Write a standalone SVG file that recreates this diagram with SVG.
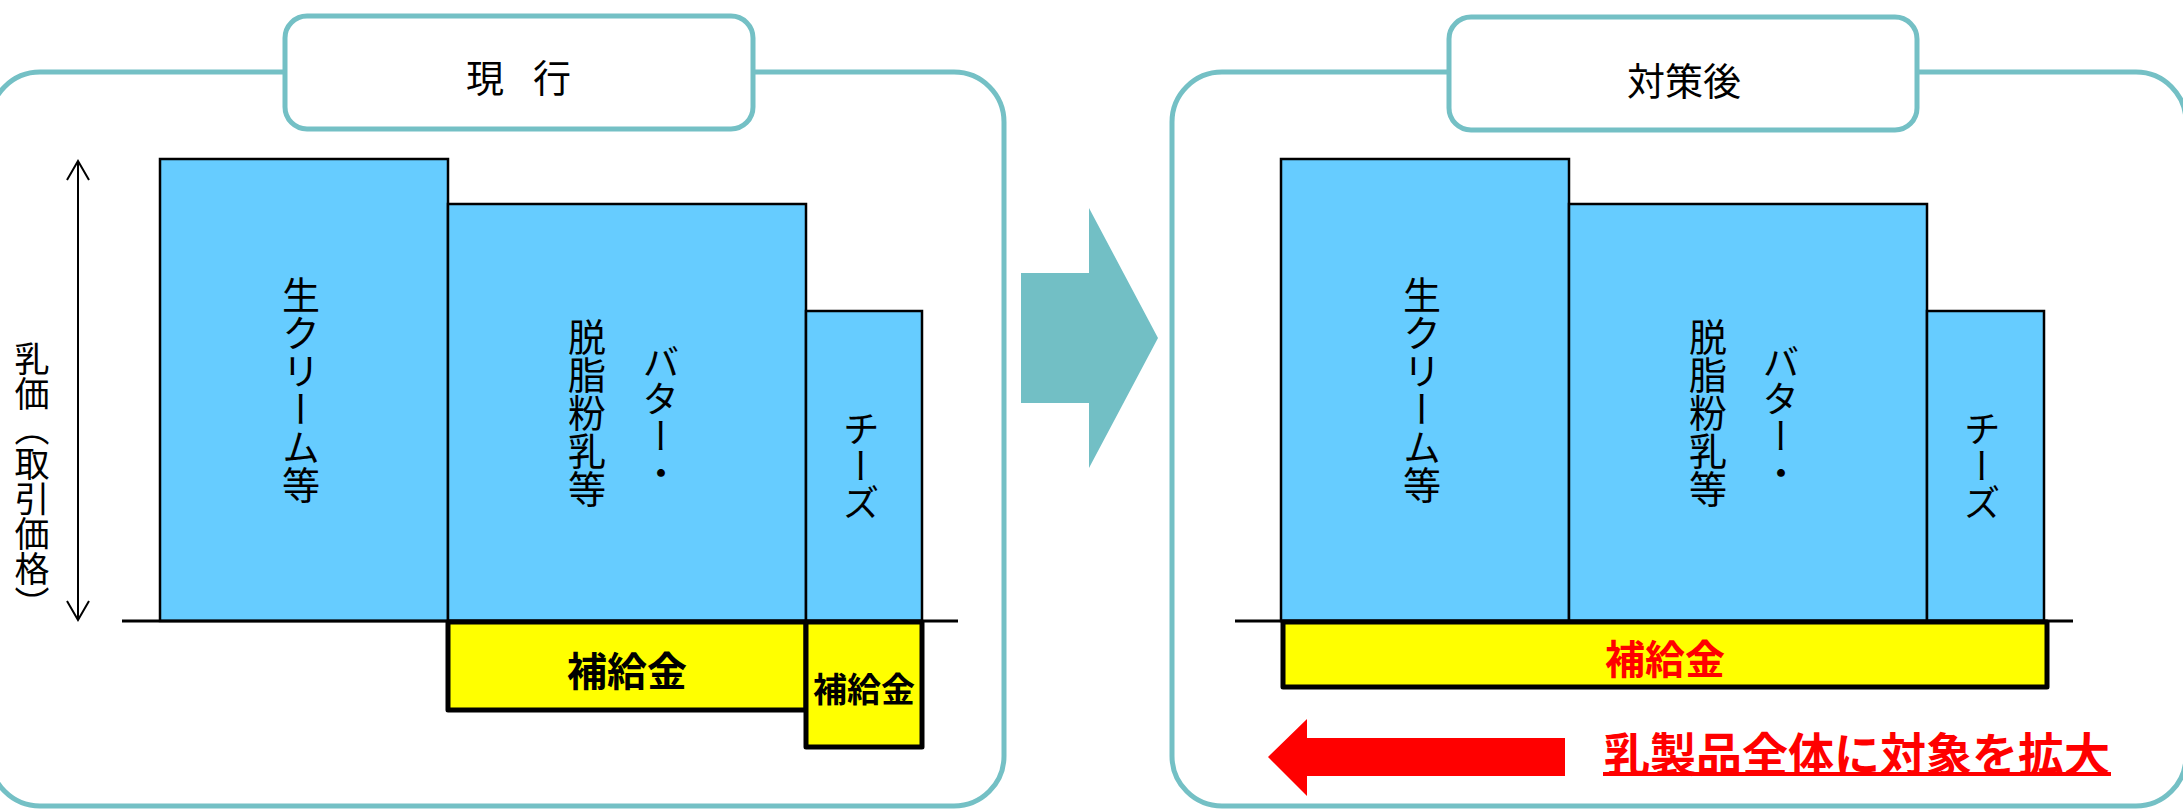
<svg xmlns="http://www.w3.org/2000/svg" width="2183" height="809" viewBox="0 0 2183 809">
<style>
.frame{fill:#FFFFFF;stroke:#74C0C5;stroke-width:5}
.title{fill:#FFFFFF;stroke:#74C0C5;stroke-width:5}
.bar{fill:#66CCFF;stroke:#000000;stroke-width:2.5}
.sub{fill:#FFFF00;stroke:#000000;stroke-width:5;stroke-linejoin:round}
.base{stroke:#000000;stroke-width:3}
.t{font-family:"Noto Sans CJK JP","Noto Sans",sans-serif;fill:#000000}
.v{writing-mode:vertical-rl;text-anchor:middle}
.h{text-anchor:middle;dominant-baseline:central}
.b{font-weight:bold}
</style>
<g id="frame-current">
<rect class="frame" x="-10" y="72" width="1014" height="734" rx="50" ry="50"/>
</g>
<g id="frame-after">
<rect class="frame" x="1172" y="72" width="1014" height="734" rx="50" ry="50"/>
</g>
<g id="title-current">
<rect class="title" x="285" y="16" width="468" height="113" rx="22" ry="22"/>
<text class="t" font-size="38" dominant-baseline="central" y="75"><tspan x="466">現</tspan><tspan x="533">行</tspan></text>
</g>
<g id="title-after">
<rect class="title" x="1449" y="17" width="468" height="113" rx="22" ry="22"/>
<text class="t h" font-size="38" x="1684" y="78">対策後</text>
</g>
<g id="axis">
<line x1="78" y1="161" x2="78" y2="620" stroke="#000" stroke-width="2"/>
<polyline points="67,180 78,161 89,180" fill="none" stroke="#000" stroke-width="2"/>
<polyline points="67,601 78,620 89,601" fill="none" stroke="#000" stroke-width="2"/>
<text class="t v" font-size="35" x="32" y="481">乳価（取引価格）</text>
</g>
<g id="current-cream">
<rect class="bar" x="160" y="159" width="288" height="462"/>
<text class="t v" font-size="38" x="301" y="390">生クリーム等</text>
</g>
<g id="current-butter">
<rect class="bar" x="448" y="204" width="358" height="417"/>
<text class="t v" font-size="37" x="661" y="417">バター・</text>
<text class="t v" font-size="38" x="587" y="413">脱脂粉乳等</text>
</g>
<g id="current-cheese">
<rect class="bar" x="806" y="311" width="116" height="310"/>
<text class="t v" font-size="37" x="861" y="466">チーズ</text>
</g>
<g id="current-subsidy-1">
<rect class="sub" x="448" y="622" width="358" height="88"/>
<text class="t h b" font-size="40" x="627" y="669">補給金</text>
</g>
<g id="current-subsidy-2">
<rect class="sub" x="806" y="622" width="116" height="125"/>
<text class="t h b" font-size="34" x="864" y="687">補給金</text>
</g>
<g id="after-cream">
<rect class="bar" x="1281" y="159" width="288" height="462"/>
<text class="t v" font-size="38" x="1422" y="390">生クリーム等</text>
</g>
<g id="after-butter">
<rect class="bar" x="1569" y="204" width="358" height="417"/>
<text class="t v" font-size="37" x="1781" y="417">バター・</text>
<text class="t v" font-size="38" x="1708" y="413">脱脂粉乳等</text>
</g>
<g id="after-cheese">
<rect class="bar" x="1927" y="311" width="117" height="310"/>
<text class="t v" font-size="37" x="1982" y="466">チーズ</text>
</g>
<g id="after-subsidy">
<rect class="sub" x="1283" y="622" width="764" height="65"/>
<text class="t h b" font-size="40" x="1665" y="657" fill="#FF0000" style="fill:#FF0000">補給金</text>
</g>
<g id="connectors">
<line class="base" x1="122" y1="621" x2="958" y2="621"/>
<line class="base" x1="1235" y1="621" x2="2073" y2="621"/>
<polygon points="1021,273 1089,273 1089,208 1158,338 1089,468 1089,403 1021,403" fill="#72BFC5"/>
<polygon points="1268,757 1307,719 1307,738 1565,738 1565,776 1307,776 1307,796" fill="#FF0000"/>
</g>
<g id="note">
<text class="t h b" font-size="46" x="1857" y="751" style="fill:#FF0000">乳製品全体に対象を拡大</text>
<line x1="1603" y1="774" x2="2111" y2="774" stroke="#FF0000" stroke-width="4"/>
</g>
</svg>
